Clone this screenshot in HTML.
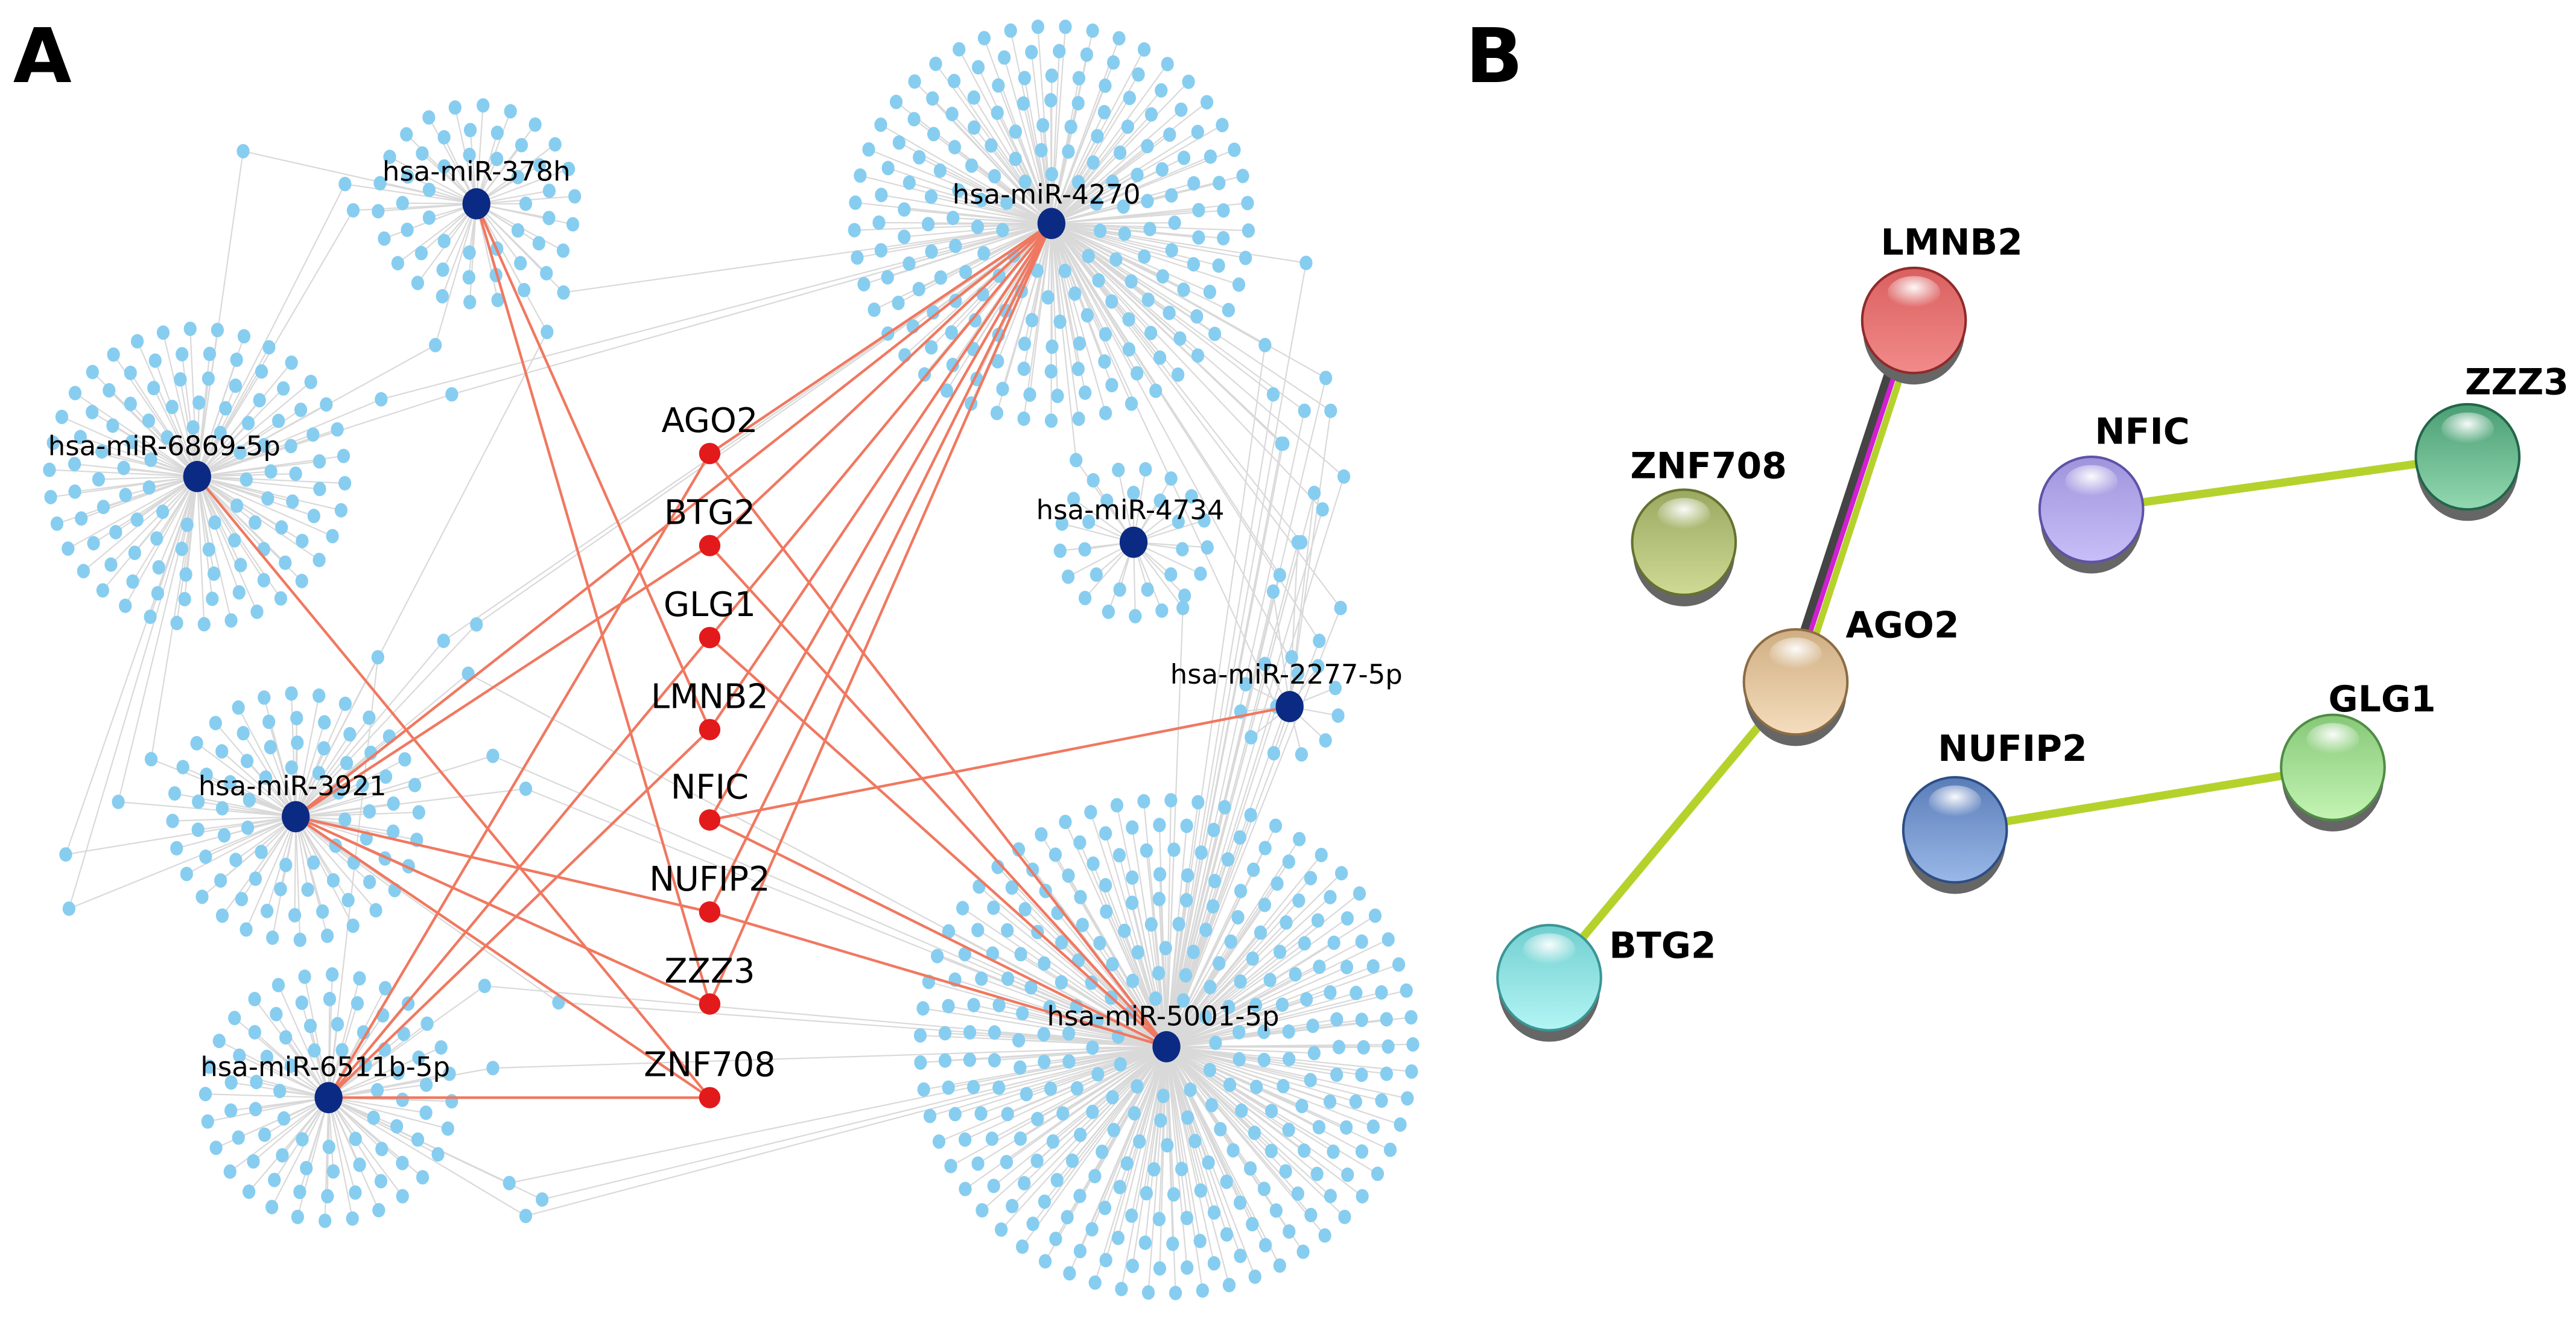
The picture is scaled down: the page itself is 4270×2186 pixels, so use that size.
<!DOCTYPE html>
<html><head><meta charset="utf-8"><style>
html,body{margin:0;padding:0;background:#fff;}
svg{display:block;}
text{font-family:"DejaVu Sans","Liberation Sans",sans-serif;}
</style></head><body>
<svg id="s" width="4270" height="2186" viewBox="0 0 1568 802.7" xmlns="http://www.w3.org/2000/svg">
<defs>
<radialGradient id="hl" cx="0.5" cy="0.35" r="0.6"><stop offset="0" stop-color="#fff" stop-opacity="0.95"/><stop offset="1" stop-color="#fff" stop-opacity="0"/></radialGradient>
</defs>
<g id="grey" stroke="#d9d9d9" stroke-width="0.8" fill="none"></g>
<g id="blue" fill="#87cdf0"></g>
<g id="red" stroke="#f07860" stroke-width="1.6" fill="none"></g>
<g id="hubs" fill="#0b2a83"></g>
<g id="genes" fill="#e31a1c"></g>
<g id="labels" font-size="16.5" fill="#000" text-anchor="middle"></g>
<text x="8" y="50" font-family="Liberation Sans" font-weight="bold" font-size="46">A</text>
<text x="892" y="50" font-family="Liberation Sans" font-weight="bold" font-size="46">B</text>
<g id="B"></g>
</svg>
<script>
var NS="http://www.w3.org/2000/svg";
function el(p,t,a,txt){var e=document.createElementNS(NS,t);for(var k in a)e.setAttribute(k,a[k]);if(txt)e.textContent=txt;document.getElementById(p).appendChild(e);return e;}
var hubs={
 h378:[290,124,60,'hsa-miR-378h',290,110],
 h4270:[640,136,118,'hsa-miR-4270',637,124],
 h6869:[120,290,95,'hsa-miR-6869-5p',100,277],
 h4734:[690,330,45,'hsa-miR-4734',688,316],
 h2277:[785,430,35,'hsa-miR-2277-5p',783,416],
 h3921:[180,497,75,'hsa-miR-3921',178,484],
 h6511:[200,668,82,'hsa-miR-6511b-5p',198,655],
 h5001:[710,637,155,'hsa-miR-5001-5p',708,624]
};
var seed=7;function rnd(){seed=(seed*16807)%2147483647;return seed/2147483647;}
for(var k in hubs){var h=hubs[k];var R=h[2];
 for(var r=30;r<=R+2;r+=15){var n=Math.floor(2*Math.PI*r/16.5);var off=rnd()*6;
  for(var i=0;i<n;i++){var a=(i+off)/n*2*Math.PI;var x=h[0]+r*Math.cos(a),y=h[1]+r*Math.sin(a);
   if(x<8||y<8||x>880)continue;
   el('grey','line',{x1:h[0],y1:h[1],x2:x,y2:y});
   el('blue','ellipse',{cx:x,cy:y,rx:3.9,ry:4.4});}}}
var shared=[[148,92,'h378','h6869'],[210,112,'h378','h6869'],[215,128,'h378','h6869'],[265,210,'h378','h6869'],[232,243,'h6869','h4270'],[275,240,'h6869','h4270'],[333,202,'h378','h3921'],[343,178,'h378','h4270'],[795,160,'h4270','h5001'],[775,240,'h4270','h5001'],[780,270,'h4270','h5001'],[800,300,'h2277','h5001'],[790,330,'h2277','h5001'],[775,360,'h2277','h5001'],[810,250,'h4270','h2277'],[40,520,'h3921','h6869'],[42,553,'h3921','h6869'],[72,488,'h3921','h6869'],[92,462,'h3921','h6869'],[310,720,'h6511','h5001'],[320,740,'h6511','h5001'],[330,730,'h6511','h5001'],[300,650,'h6511','h5001'],[295,600,'h6511','h5001'],[340,610,'h3921','h5001'],[270,390,'h3921','h4270'],[290,380,'h3921','h4270'],[285,410,'h3921','h5001'],[300,460,'h3921','h5001'],[320,480,'h3921','h5001'],[230,400,'h3921','h6511'],[720,370,'h4734','h5001'],[655,280,'h4734','h4270']];
shared.forEach(function(s){var a=hubs[s[2]],b=hubs[s[3]];
 el('grey','line',{x1:a[0],y1:a[1],x2:s[0],y2:s[1]});el('grey','line',{x1:b[0],y1:b[1],x2:s[0],y2:s[1]});
 el('blue','ellipse',{cx:s[0],cy:s[1],rx:3.9,ry:4.4});});
for(var j=0;j<12;j++){var x=770+((j*37)%50),y=210+j*20;el('grey','line',{x1:640,y1:136,x2:x,y2:y});el('grey','line',{x1:710,y1:637,x2:x,y2:y});el('blue','ellipse',{cx:x,cy:y,rx:3.9,ry:4.4});}
var genes={AGO2:276,BTG2:332,GLG1:388,LMNB2:444,NFIC:499,NUFIP2:555,ZZZ3:611,ZNF708:668};
var E=[['AGO2','h4270'],['AGO2','h6511'],['AGO2','h5001'],['BTG2','h3921'],['BTG2','h5001'],['BTG2','h4270'],['GLG1','h6511'],['GLG1','h5001'],['GLG1','h4270'],['LMNB2','h378'],['LMNB2','h6511'],['LMNB2','h4270'],['NFIC','h2277'],['NFIC','h5001'],['NFIC','h4270'],['NUFIP2','h3921'],['NUFIP2','h5001'],['NUFIP2','h4270'],['ZZZ3','h378'],['ZZZ3','h3921'],['ZZZ3','h4270'],['ZNF708','h6511'],['ZNF708','h6869'],['ZNF708','h3921']];
E.forEach(function(e){var h=hubs[e[1]];el('red','line',{x1:432,y1:genes[e[0]],x2:h[0],y2:h[1]});});
el('red','line',{x1:640,y1:136,x2:180,y2:497});
for(var k in hubs){var h=hubs[k];el('hubs','ellipse',{cx:h[0],cy:h[1],rx:8.5,ry:9.5});el('labels','text',{x:h[4],y:h[5]},h[3]);}
for(var g in genes){el('genes','circle',{cx:432,cy:genes[g],r:6.5});el('labels','text',{x:432,y:genes[g]-13,'font-size':20.5},g);}
var P={LMNB2:[1165,195,'#d9605f','#f28a8a','#8f2a2a',1188,155],ZNF708:[1025,330,'#9aa860','#cfdb95','#65722f',1040,291],AGO2:[1093,415,'#cfae82','#f5ddbd','#8d6c44',1158,388],BTG2:[943,595,'#71cfcf','#b4f5f5','#3a9595',1012,583],NFIC:[1273,310,'#9f94dc','#c8bff8','#5d52a8',1304,270],ZZZ3:[1502,278,'#4a9e74','#93d8b0','#22664a',1532,240],NUFIP2:[1190,505,'#5a7db8','#9ab8e8','#2c4e86',1225,463],GLG1:[1420,467,'#86c878','#c4f4b4','#4f8c44',1450,433]};
function L(a,b,c,w,dx){var p=P[a],q=P[b];el('B','line',{x1:p[0]+dx,y1:p[1],x2:q[0]+dx,y2:q[1],stroke:c,'stroke-width':w});}
L('LMNB2','AGO2','#444',5,-5);L('LMNB2','AGO2','#d020d0',3,-1);L('LMNB2','AGO2','#b5d22c',4,3);
L('AGO2','BTG2','#b5d22c',5,0);L('NFIC','ZZZ3','#b5d22c',5,0);L('NUFIP2','GLG1','#b5d22c',5,0);
var i=0;for(var g in P){var p=P[g];i++;
 var gr=el('B','linearGradient',{id:'g'+i,x1:0,y1:0,x2:0,y2:1});
 var s1=document.createElementNS(NS,'stop');s1.setAttribute('offset','0');s1.setAttribute('stop-color',p[2]);gr.appendChild(s1);
 var s2=document.createElementNS(NS,'stop');s2.setAttribute('offset','1');s2.setAttribute('stop-color',p[3]);gr.appendChild(s2);
 el('B','ellipse',{cx:p[0],cy:p[1]+6,rx:31,ry:33,fill:'#666'});
 el('B','ellipse',{cx:p[0],cy:p[1],rx:31.5,ry:32,fill:'url(#g'+i+')',stroke:p[4],'stroke-width':1.5});
 el('B','ellipse',{cx:p[0],cy:p[1]-17,rx:16,ry:10,fill:'url(#hl)'});
 el('B','text',{x:p[5],y:p[6],'font-family':'Liberation Sans','font-weight':'bold','font-size':22,'text-anchor':'middle'},g);}
</script>
</body></html>
